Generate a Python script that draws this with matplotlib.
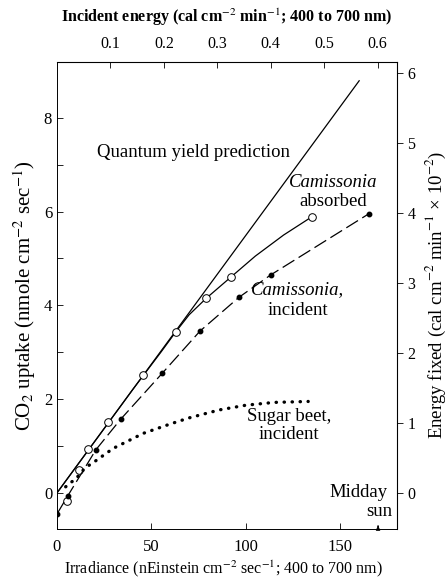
import matplotlib
matplotlib.use('Agg')
import matplotlib.pyplot as plt

plt.rcParams['font.family'] = ['Liberation Serif', 'DejaVu Serif']
plt.rcParams['mathtext.fontset'] = 'stix'

# Quantum yield prediction (straight line)
quantum_x = [0, 160]
quantum_y = [0, 8.79]

# Camissonia, absorbed: open circles and the drawn curve
abs_x = [5.1, 11.4, 16.6, 27.2, 45.7, 62.8, 78.8, 92.4, 135]
abs_y = [-0.17, 0.49, 0.94, 1.51, 2.52, 3.44, 4.15, 4.61, 5.89]
abs_curve_x = [0, 20, 40, 55, 63, 70, 79, 92, 105, 120, 135]
abs_curve_y = [0, 1.1, 2.2, 3.0, 3.44, 3.8, 4.15, 4.6, 5.05, 5.5, 5.89]

# Camissonia, incident: filled dots
inc_x = [0, 5.6, 20.6, 33.7, 55.7, 75.7, 96.3, 113.2, 165]
inc_y = [-0.45, -0.07, 0.92, 1.57, 2.55, 3.45, 4.17, 4.65, 5.95]

# Sugar beet, incident (dotted curve)
beet_x = [4.6, 10.4, 14.8, 20, 29.8, 45.7, 60, 70, 86, 100, 115, 133]
beet_y = [0.13, 0.32, 0.53, 0.67, 0.95, 1.27, 1.47, 1.6, 1.77, 1.87, 1.93, 1.95]

bottom_ticks = [0, 50, 100, 150]
top_ticks = [0.1, 0.2, 0.3, 0.4, 0.5, 0.6]
right_ticks = [0, 1, 2, 3, 4, 5, 6]
midday_x = 170

top_scale = 0.636 / 180   # incident energy per irradiance unit
right_scale = 0.67        # energy fixed per CO2 uptake unit

fig = plt.figure(figsize=(4.47, 5.84), dpi=100)
ax = fig.add_axes([0.1275, 0.0942, 0.7605, 0.7996])

ax.plot(quantum_x, quantum_y, color='black', lw=0.9)
ax.plot(abs_curve_x, abs_curve_y, color='black', lw=0.9)
ax.plot(abs_x, abs_y, 'o', ms=5.5, mfc='white', mec='black', mew=0.7)
ax.plot(inc_x, inc_y, color='black', lw=0.9, ls=(0, (11, 4)))
ax.plot(inc_x, inc_y, 'o', ms=3.2, color='black', ls='none')
ax.plot(beet_x, beet_y, color='black', lw=2.4, ls=(0, (0.1, 2.3)),
        dash_capstyle='round')

ax.set_xlim(0, 180)
ax.set_ylim(-0.77, 9.19)
ax.set_xticks(bottom_ticks)
ax.set_yticks([0, 2, 4, 6, 8])
ax.set_yticks([1, 3, 5, 7], minor=True)
ax.tick_params(axis='both', which='both', direction='in', labelsize=12,
               length=4, width=0.6)
ax.tick_params(axis='x', pad=7)
for s in ax.spines.values():
    s.set_linewidth(0.7)

top = ax.secondary_xaxis('top', functions=(lambda x: x * top_scale,
                                           lambda x: x / top_scale))
top.set_xticks(top_ticks)
top.set_xticklabels([str(t) for t in top_ticks])
top.tick_params(direction='in', labelsize=11.5, length=4, width=0.6, pad=7)
top.set_xlabel('Incident energy (cal cm$^{-2}$ min$^{-1}$; 400 to 700 nm)',
               fontsize=11.5, fontweight='bold', labelpad=10)

right = ax.secondary_yaxis('right', functions=(lambda y: y * right_scale,
                                               lambda y: y / right_scale))
right.set_yticks(right_ticks)
right.tick_params(direction='out', labelsize=11.5, length=4, width=0.6)
right.set_ylabel('Energy fixed (cal cm$^{-2}$ min$^{-1}$ × 10$^{-2}$)',
                 fontsize=13.5, labelpad=6)

fig.text(0.501, 0.026,
         'Irradiance (nEinstein cm$^{-2}$ sec$^{-1}$; 400 to 700 nm)',
         fontsize=11.5, ha='center', va='center')
ax.set_ylabel('CO$_2$ uptake (nmole cm$^{-2}$ sec$^{-1}$)', fontsize=15,
              labelpad=4)

fs = 13.5
ax.text(21, 7.25, 'Quantum yield prediction', fontsize=fs, va='center')
ax.text(146, 6.63, 'Camissonia', fontsize=fs, style='italic',
        ha='center', va='center')
ax.text(146, 6.22, 'absorbed', fontsize=fs, ha='center', va='center')
ax.text(127.5, 4.33, 'Camissonia,', fontsize=fs, style='italic',
        ha='center', va='center')
ax.text(127.5, 3.9, 'incident', fontsize=fs, ha='center', va='center')
ax.text(123, 1.62, 'Sugar beet,', fontsize=fs, ha='center', va='center')
ax.text(123, 1.25, 'incident', fontsize=fs, ha='center', va='center')
ax.text(175, 0.0, 'Midday', fontsize=fs, ha='right', va='center')
ax.text(177.5, -0.4, 'sun', fontsize=fs, ha='right', va='center')
ax.annotate('', xy=(midday_x, -0.64), xytext=(midday_x, -0.77),
            arrowprops=dict(arrowstyle='-|>', color='black', lw=0.8,
                            mutation_scale=6))

fig.savefig('out.png', dpi=100)
